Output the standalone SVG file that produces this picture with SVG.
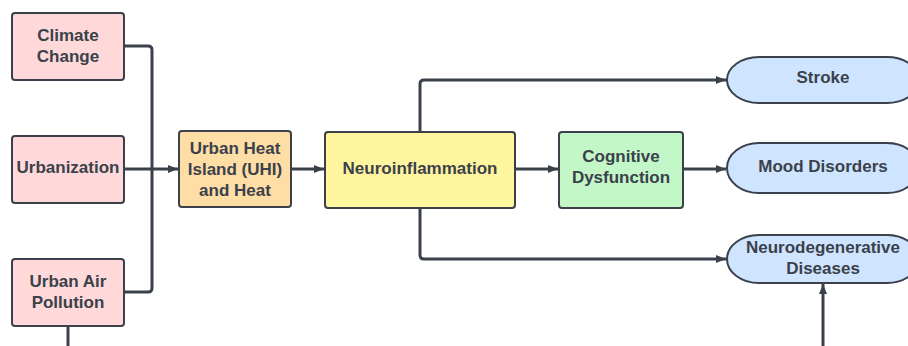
<svg xmlns="http://www.w3.org/2000/svg" width="908" height="346" viewBox="0 0 908 346">
<defs>
<marker id="ah" viewBox="0 0 10 10" refX="10" refY="5" markerWidth="10" markerHeight="10" markerUnits="userSpaceOnUse" orient="auto">
<path d="M0,1 L10,5 L0,9 Z" fill="#3a414a"/>
</marker>
<style>
.box{stroke:#3a414a;stroke-width:2}
.t{font-family:"Liberation Sans",Arial,sans-serif;font-weight:bold;font-size:17px;fill:#3a414a;text-anchor:middle}
.c{fill:none;stroke:#3a414a;stroke-width:3;stroke-linejoin:round}
.pink{fill:#ffd9d9}
.orange{fill:#ffdea6}
.yellow{fill:#fff59e}
.green{fill:#c3f7c8}
.blue{fill:#cfe4ff}
</style>
</defs>
<rect width="908" height="346" fill="#ffffff"/>
<g id="connectors">
<path class="c" d="M124,46 H148 Q152,46 152,50 V288 Q152,292 148,292 H124"/>
<path class="c" d="M124,169 H178" marker-end="url(#ah)"/>
<path class="c" d="M68,326 V346"/>
<path class="c" d="M291,169 H324" marker-end="url(#ah)"/>
<path class="c" d="M515,169 H558" marker-end="url(#ah)"/>
<path class="c" d="M683,169 H726" marker-end="url(#ah)"/>
<path class="c" d="M420,132 V84 Q420,80 424,80 H726" marker-end="url(#ah)"/>
<path class="c" d="M420,208 V255 Q420,259 424,259 H726" marker-end="url(#ah)"/>
<path class="c" d="M823,346 V284" marker-end="url(#ah)"/>
</g>
<g id="climate">
<rect class="box pink" x="12" y="13" width="112" height="67" rx="3"/>
<text class="t" x="68" y="41">Climate</text>
<text class="t" x="68" y="62">Change</text>
</g>
<g id="urbanization">
<rect class="box pink" x="12" y="136" width="112" height="67" rx="3"/>
<text class="t" x="68" y="173">Urbanization</text>
</g>
<g id="pollution">
<rect class="box pink" x="12" y="259" width="112" height="67" rx="3"/>
<text class="t" x="68" y="287">Urban Air</text>
<text class="t" x="68" y="308">Pollution</text>
</g>
<g id="uhi">
<rect class="box orange" x="179" y="131" width="112" height="76" rx="3"/>
<text class="t" x="235" y="154">Urban Heat</text>
<text class="t" x="235" y="175">Island (UHI)</text>
<text class="t" x="235" y="196">and Heat</text>
</g>
<g id="neuro">
<rect class="box yellow" x="325" y="132" width="190" height="76" rx="3"/>
<text class="t" x="420" y="174">Neuroinflammation</text>
</g>
<g id="cognitive">
<rect class="box green" x="559" y="132" width="124" height="76" rx="3"/>
<text class="t" x="621" y="162">Cognitive</text>
<text class="t" x="621" y="183">Dysfunction</text>
</g>
<g id="stroke">
<rect class="box blue" x="727" y="57" width="192" height="46" rx="32" ry="23"/>
<text class="t" x="823" y="83">Stroke</text>
</g>
<g id="mood">
<rect class="box blue" x="727" y="143" width="192" height="50" rx="32" ry="25"/>
<text class="t" x="823" y="172">Mood Disorders</text>
</g>
<g id="neurodeg">
<rect class="box blue" x="727" y="235" width="192" height="48" rx="32" ry="24"/>
<text class="t" x="823" y="253">Neurodegenerative</text>
<text class="t" x="823" y="274">Diseases</text>
</g>
</svg>
